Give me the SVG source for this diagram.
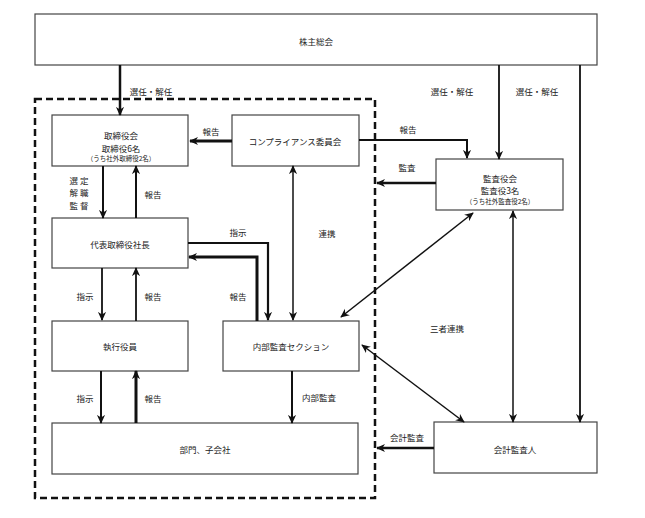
<svg xmlns="http://www.w3.org/2000/svg" width="645" height="518" viewBox="0 0 645 518">
<style>
.box{fill:#fff;stroke:#444;stroke-width:1.2}
.t{font-family:"Noto Sans CJK JP","Noto Sans",sans-serif;font-size:8.5px;fill:#222;text-anchor:middle;dominant-baseline:central}
.s{font-size:6.5px}
.c{fill:none;stroke:#111}
.e{marker-end:url(#ah)}
.b{marker-start:url(#ah);marker-end:url(#ah)}
</style>
<defs>
<marker id="ah" viewBox="0 0 10 10" refX="9" refY="5" markerWidth="9" markerHeight="9" markerUnits="userSpaceOnUse" orient="auto-start-reverse">
<path d="M0,0.5 L10,5 L0,9.5 L3,5 z" fill="#111"/>
</marker>
</defs>
<rect width="645" height="518" fill="#fff"/>
<rect x="35" y="99" width="340" height="399" fill="none" stroke="#111" stroke-width="2.5" stroke-dasharray="7,4"/>

<g id="kabunushi"><rect class="box" x="35" y="14" width="562" height="51"/><text class="t" x="316" y="41">株主総会</text></g>
<g id="torishimariyakukai"><rect class="box" x="52" y="115" width="136" height="51"/><text class="t" x="121" y="135">取締役会</text><text class="t" x="121" y="148">取締役6名</text><text class="t s" x="121" y="158">（うち社外取締役2名）</text></g>
<g id="compliance"><rect class="box" x="232" y="115" width="127" height="51"/><text class="t" x="295" y="141">コンプライアンス委員会</text></g>
<g id="kansayakukai"><rect class="box" x="436" y="159" width="127" height="51"/><text class="t" x="500" y="178">監査役会</text><text class="t" x="500" y="190">監査役3名</text><text class="t s" x="500" y="201">（うち社外監査役2名）</text></g>
<g id="daihyo"><rect class="box" x="52" y="218" width="136" height="50"/><text class="t" x="120" y="244">代表取締役社長</text></g>
<g id="shikko"><rect class="box" x="52" y="321" width="136" height="50"/><text class="t" x="120" y="346">執行役員</text></g>
<g id="naibukansa"><rect class="box" x="223" y="321" width="136" height="50"/><text class="t" x="291" y="346">内部監査セクション</text></g>
<g id="bumon"><rect class="box" x="52" y="423" width="306" height="51"/><text class="t" x="205" y="449">部門、子会社</text></g>
<g id="kaikeikansanin"><rect class="box" x="434" y="422" width="163" height="51"/><text class="t" x="515" y="449">会計監査人</text></g>

<g id="connectors">
<path class="c e" stroke-width="2.5" d="M120,65 V115"/>
<path class="c e" stroke-width="1.8" d="M499,65 V159"/>
<path class="c e" stroke-width="1.8" d="M580,65 V422"/>
<path class="c e" stroke-width="3" d="M232,141 H190"/>
<path class="c e" stroke-width="2" d="M359,140 H467 V158"/>
<path class="c e" stroke-width="2.5" d="M436,183 H377"/>
<path class="c e" stroke-width="2" d="M103,166 V218"/>
<path class="c e" stroke-width="2" d="M136,218 V166"/>
<path class="c b" stroke-width="1.5" d="M293,166 V320"/>
<path class="c e" stroke-width="2.2" d="M188,243 H268 V320"/>
<path class="c e" stroke-width="3" d="M257,321 V257 H189"/>
<path class="c e" stroke-width="1.8" d="M102,268 V320"/>
<path class="c e" stroke-width="1.8" d="M136,321 V268"/>
<path class="c e" stroke-width="2" d="M101,371 V423"/>
<path class="c e" stroke-width="3" d="M136,423 V371"/>
<path class="c e" stroke-width="2" d="M292,371 V423"/>
<path class="c b" stroke-width="1.5" d="M473,213 L341,317"/>
<path class="c b" stroke-width="1.5" d="M513,211 V422"/>
<path class="c b" stroke-width="1.5" d="M362,345 L464,422"/>
<path class="c e" stroke-width="2.5" d="M434,448 H377"/>
</g>

<g id="labels">
<text class="t" x="151" y="91">選任・解任</text>
<text class="t" x="452" y="91">選任・解任</text>
<text class="t" x="537" y="91">選任・解任</text>
<text class="t" x="211" y="131">報告</text>
<text class="t" x="408" y="129">報告</text>
<text class="t" x="407" y="167">監査</text>
<text class="t" x="79" y="180">選 定</text>
<text class="t" x="79" y="192">解 職</text>
<text class="t" x="79" y="205">監 督</text>
<text class="t" x="153" y="194">報告</text>
<text class="t" x="238" y="232">指示</text>
<text class="t" x="327" y="233">連携</text>
<text class="t" x="85" y="296">指示</text>
<text class="t" x="153" y="296">報告</text>
<text class="t" x="238" y="296">報告</text>
<text class="t" x="447" y="328">三者連携</text>
<text class="t" x="85" y="398">指示</text>
<text class="t" x="153" y="398">報告</text>
<text class="t" x="319" y="397">内部監査</text>
<text class="t" x="407" y="437">会計監査</text>
</g>
</svg>
